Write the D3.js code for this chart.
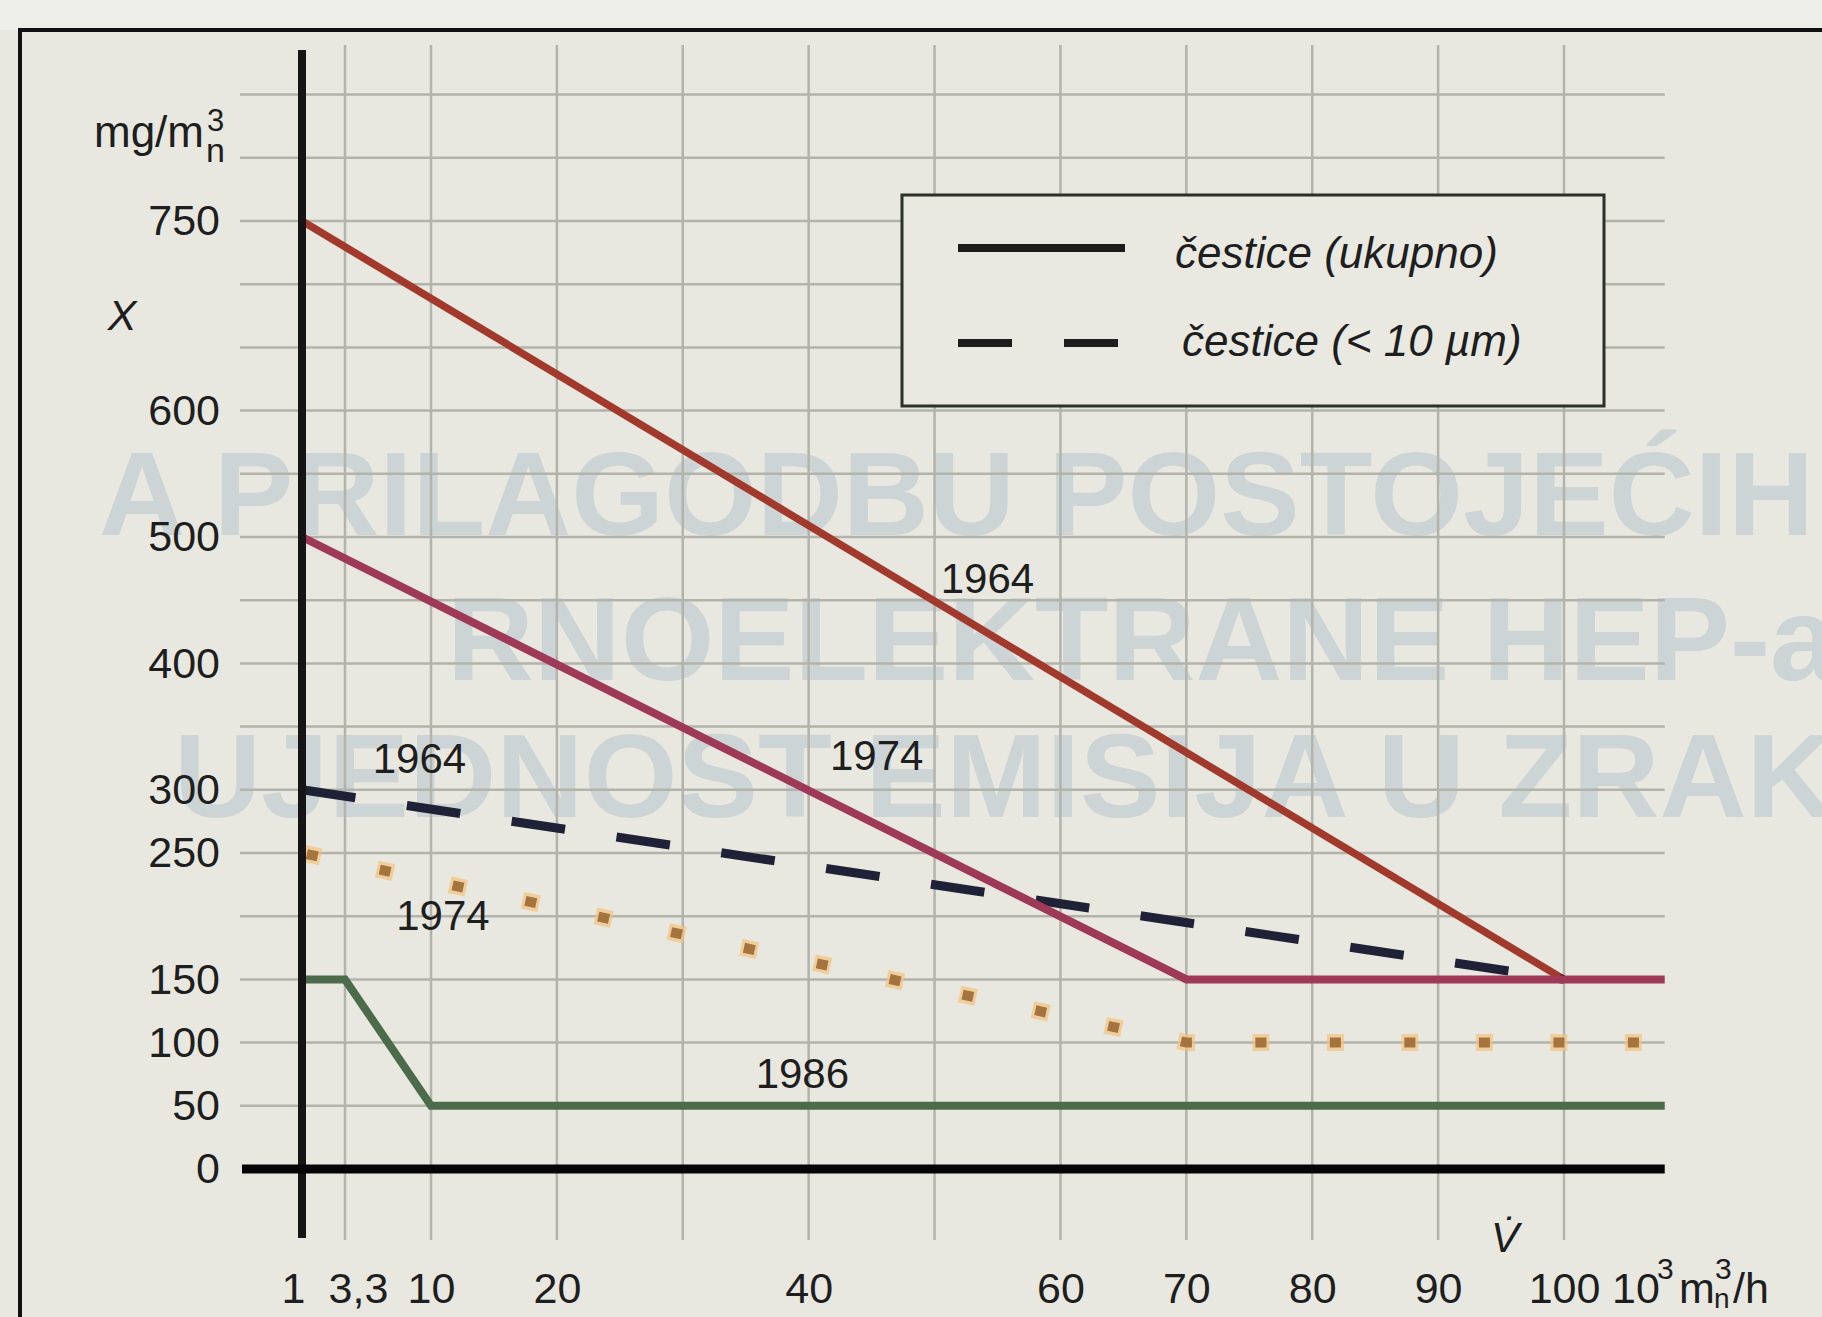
<!DOCTYPE html>
<html>
<head>
<meta charset="utf-8">
<script src="https://cdn.jsdelivr.net/npm/d3@7"></script>
<style>
  body { margin: 0; background: #e8e8e0; }
  svg { display: block; font-family: "Liberation Sans", Arial, sans-serif; }
</style>
</head>
<body>
<script>
// values
var flowTicks = [1, 3.3, 10, 20, 40, 60, 70, 80, 90, 100];      // 10^3 m3n/h
var concTicks = [0, 50, 100, 150, 250, 300, 400, 500, 600, 750]; // mg/m3n
var gridFlow = [3.3, 10, 20, 30, 40, 50, 60, 70, 80, 90, 100];
var gridConc = [50, 100, 150, 200, 250, 300, 350, 400, 450, 500, 550, 600, 650, 700, 750, 800, 850];
var flowEnd = 108;

// [flow, concentration]
var total1964 = [[1, 750], [100, 150]];
var total1974 = [[1, 500], [70, 150], [108, 150]];
var pm10_1964 = [[1, 300], [100, 150]];
var pm10_1974 = [[1, 250], [70, 100], [108, 100]];
var limit1986 = [[1, 150], [3.3, 150], [10, 50], [108, 50]];

var W = 1822, H = 1317;

var svg = d3.select("body").append("svg")
    .attr("width", W)
    .attr("height", H);

// the flow axis is stretched between 1 and 10 in the original
var x = d3.scaleLinear()
    .domain([1, 3.3, 10, 100])
    .range([302, 345, 431, 1564]);
var y = d3.scaleLinear()
    .domain([0, 750])
    .range([1169, 221]);

// paper
svg.append("rect").attr("width", W).attr("height", H).attr("fill", "#e8e8e0");
svg.append("rect").attr("width", W).attr("height", 30).attr("fill", "#efefea");

// print from the other side of the page shows through
var ghost = svg.append("g")
    .attr("font-weight", "bold")
    .attr("font-size", 118)
    .attr("fill", "#ccd4d6");
ghost.append("text").attr("x", 99).attr("y", 535)
    .attr("textLength", 1715).attr("lengthAdjust", "spacingAndGlyphs")
    .text("A PRILAGODBU POSTOJEĆIH");
ghost.append("text").attr("x", 447).attr("y", 680)
    .attr("textLength", 1390).attr("lengthAdjust", "spacingAndGlyphs")
    .text("RNOELEKTRANE HEP-a");
ghost.append("text").attr("x", 174).attr("y", 817)
    .attr("textLength", 1660).attr("lengthAdjust", "spacingAndGlyphs")
    .text("UJEDNOST EMISIJA U ZRAK");

// frame
svg.append("path")
    .attr("d", "M20," + H + " V30 H" + W)
    .attr("fill", "none")
    .attr("stroke", "#111")
    .attr("stroke-width", 4);

// grid
var grid = svg.append("g")
    .attr("stroke", "#b2b3ab")
    .attr("stroke-width", 2.5);
grid.selectAll("line.v")
    .data(gridFlow)
    .enter().append("line")
    .attr("class", "v")
    .attr("x1", function(d){ return x(d); })
    .attr("x2", function(d){ return x(d); })
    .attr("y1", 45)
    .attr("y2", 1240);
grid.selectAll("line.h")
    .data(gridConc)
    .enter().append("line")
    .attr("class", "h")
    .attr("x1", 240)
    .attr("x2", x(flowEnd))
    .attr("y1", function(d){ return y(d); })
    .attr("y2", function(d){ return y(d); });

// legend box
var legend = svg.append("g");
legend.append("rect")
    .attr("x", 902).attr("y", 195)
    .attr("width", 702).attr("height", 211)
    .attr("fill", "#e9e9e2")
    .attr("stroke", "#2b302b")
    .attr("stroke-width", 3);
legend.append("line")
    .attr("x1", 958).attr("x2", 1125).attr("y1", 248).attr("y2", 248)
    .attr("stroke", "#1d1d1d").attr("stroke-width", 8);
legend.append("line")
    .attr("x1", 958).attr("x2", 1122).attr("y1", 343).attr("y2", 343)
    .attr("stroke", "#1d1d1d").attr("stroke-width", 8)
    .attr("stroke-dasharray", "54,52");
legend.append("text")
    .attr("x", 1175).attr("y", 268)
    .attr("font-size", 44).attr("font-style", "italic").attr("fill", "#1e1e1e")
    .text("čestice (ukupno)");
legend.append("text")
    .attr("x", 1182).attr("y", 356)
    .attr("font-size", 44).attr("font-style", "italic").attr("fill", "#1e1e1e")
    .text("čestice (< 10 µm)");

// series
var line = d3.line()
    .x(function(d){ return x(d[0]); })
    .y(function(d){ return y(d[1]); });

var plot = svg.append("g").attr("fill", "none").attr("stroke-linejoin", "miter");

plot.append("path").datum(total1964)
    .attr("d", line).attr("stroke", "#a13a2d").attr("stroke-width", 7.5);
plot.append("path").datum(pm10_1964)
    .attr("d", line).attr("stroke", "#1f2236").attr("stroke-width", 9)
    .attr("stroke-dasharray", "54,52");
// orange squares with a light halo
plot.append("path").datum(pm10_1974)
    .attr("d", line).attr("stroke", "#f3c37e").attr("stroke-width", 17)
    .attr("stroke-dasharray", "17,57.5").attr("stroke-dashoffset", -2)
    .attr("opacity", 0.7);
plot.append("path").datum(pm10_1974)
    .attr("d", line).attr("stroke", "#a5743e").attr("stroke-width", 10)
    .attr("stroke-dasharray", "11,63.5").attr("stroke-dashoffset", -5);
plot.append("path").datum(total1974)
    .attr("d", line).attr("stroke", "#9e3a58").attr("stroke-width", 8);
plot.append("path").datum(limit1986)
    .attr("d", line).attr("stroke", "#4b6b4a").attr("stroke-width", 8);

// axes lines
svg.append("line")
    .attr("x1", x(1)).attr("x2", x(1)).attr("y1", 50).attr("y2", 1238)
    .attr("stroke", "#151515").attr("stroke-width", 8);
svg.append("line")
    .attr("x1", 242).attr("x2", x(flowEnd)).attr("y1", y(0)).attr("y2", y(0))
    .attr("stroke", "#050505").attr("stroke-width", 9);

// tick labels
var yAxis = svg.append("g")
    .attr("transform", "translate(220,0)")
    .call(d3.axisLeft(y).tickValues(concTicks).tickSize(0).tickPadding(0));
yAxis.select(".domain").remove();
yAxis.attr("font-family", null).attr("font-size", 43);
yAxis.selectAll("text").attr("fill", "#1e1e1e");

var labelShift = {1: -9, 3.3: 13};
var xAxis = svg.append("g")
    .attr("transform", "translate(0,1272)")
    .call(d3.axisBottom(x)
        .tickValues(flowTicks)
        .tickSize(0).tickPadding(0)
        .tickFormat(function(d){ return String(d).replace(".", ","); }));
xAxis.select(".domain").remove();
xAxis.attr("font-family", null).attr("font-size", 43);
xAxis.selectAll("text")
    .attr("fill", "#1e1e1e")
    .attr("dx", function(d){ return labelShift[d] || 0; });

// units
var units = svg.append("g").attr("fill", "#1e1e1e");
units.append("text").attr("x", 94).attr("y", 147).attr("font-size", 44).text("mg/m");
units.append("text").attr("x", 207).attr("y", 131).attr("font-size", 31).text("3");
units.append("text").attr("x", 206).attr("y", 162).attr("font-size", 34).text("n");
units.append("text").attr("x", 122).attr("y", 330).attr("font-size", 43)
    .attr("font-style", "italic").attr("text-anchor", "middle").text("X");

units.append("text").attr("x", 1612).attr("y", 1303).attr("font-size", 43).text("10");
units.append("text").attr("x", 1657).attr("y", 1279).attr("font-size", 30).text("3");
units.append("text").attr("x", 1679).attr("y", 1303).attr("font-size", 43).text("m");
units.append("text").attr("x", 1715).attr("y", 1279).attr("font-size", 30).text("3");
units.append("text").attr("x", 1714).attr("y", 1308).attr("font-size", 28).text("n");
units.append("text").attr("x", 1733).attr("y", 1303).attr("font-size", 43).text("/h");
units.append("text").attr("x", 1505).attr("y", 1252).attr("font-size", 42)
    .attr("font-style", "italic").attr("text-anchor", "middle").text("V\u0307");

// year labels next to the curves (placed in data units)
var yearLabels = [
    {text: "1964", at: [54.2, 456]},
    {text: "1974", at: [45.4, 316]},
    {text: "1964", at: [9.1, 313]},
    {text: "1974", at: [10.95, 189]},
    {text: "1986", at: [39.5, 64]}
];
svg.append("g")
    .attr("font-size", 42)
    .attr("fill", "#1e1e1e")
    .attr("text-anchor", "middle")
    .selectAll("text")
    .data(yearLabels)
    .enter().append("text")
    .attr("x", function(d){ return x(d.at[0]); })
    .attr("y", function(d){ return y(d.at[1]); })
    .text(function(d){ return d.text; });
</script>
</body>
</html>
